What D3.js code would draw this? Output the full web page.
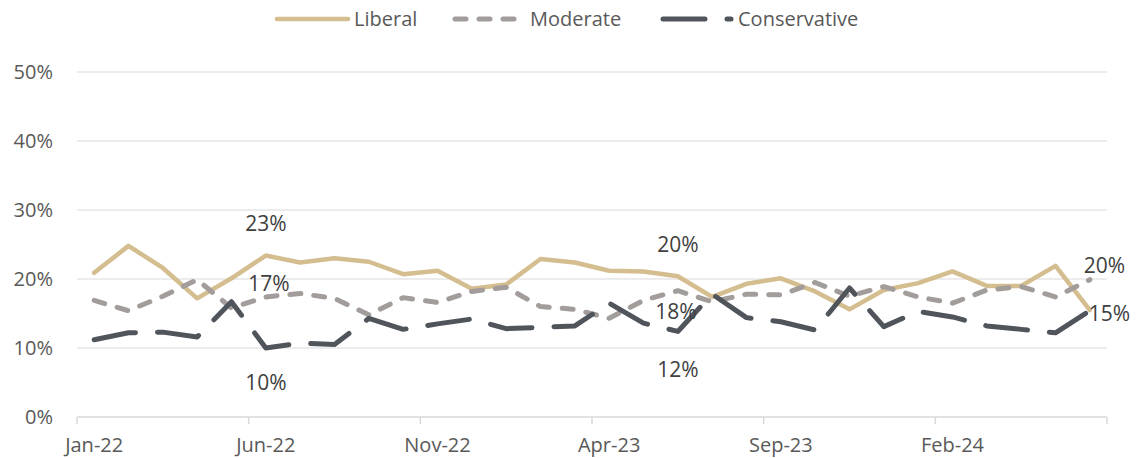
<!DOCTYPE html>
<html>
<head>
<meta charset="utf-8">
<script src="https://cdn.jsdelivr.net/npm/d3@7"></script>
<style>
  body { margin: 0; background: #fff; }
  text { font-family: "Open Sans", sans-serif; fill: #595959; }
</style>
</head>
<body>
<script>
// monthly readings, Jan-22 .. Jun-24
var months = d3.timeMonth.range(new Date(2022, 0, 1), new Date(2024, 6, 1));

var liberal = [20.9, 24.8, 21.6, 17.2, 20.1, 23.4, 22.4, 23.0, 22.5, 20.7,
               21.2, 18.6, 19.2, 22.9, 22.4, 21.2, 21.1, 20.4, 17.4, 19.3,
               20.1, 18.2, 15.6, 18.4, 19.4, 21.1, 19.0, 19.0, 21.9, 15.5];
var moderate = [16.9, 15.4, 17.5, 19.9, 15.8, 17.4, 17.9, 17.2, 14.8, 17.3,
                16.6, 18.2, 18.8, 16.0, 15.6, 14.3, 16.9, 18.3, 16.7, 17.8,
                17.7, 19.5, 17.5, 18.9, 17.4, 16.5, 18.4, 18.9, 17.4, 19.9];
var conservative = [11.2, 12.2, 12.3, 11.6, 16.7, 10.0, 10.7, 10.5, 14.3, 12.7,
                    13.5, 14.2, 12.8, 13.0, 13.2, 16.5, 13.6, 12.4, 17.8, 14.4,
                    13.8, 12.6, 18.7, 13.1, 15.3, 14.5, 13.2, 12.7, 12.2, 15.4];

var yTicks = [0, 10, 20, 30, 40, 50];
var xLabelEvery = 5;

var series = [
  {name: "Liberal", values: liberal, color: "#D4BD8F", width: 4.5, dash: null},
  {name: "Moderate", values: moderate, color: "#A29C9B", width: 5, dash: "11,13"},
  {name: "Conservative", values: conservative, color: "#50555C", width: 5, dash: "42,22"}
];

// which points carry a data label, and where it sits relative to the point
var labels = [
  {s: 0, i: 5, dx: 0, dy: -25, anchor: "middle"},
  {s: 1, i: 5, dx: 3, dy: -6, anchor: "middle"},
  {s: 2, i: 5, dx: 0, dy: 42, anchor: "middle"},
  {s: 0, i: 17, dx: 0, dy: -24, anchor: "middle"},
  {s: 1, i: 17, dx: -2, dy: 28, anchor: "middle"},
  {s: 2, i: 17, dx: 0, dy: 46, anchor: "middle"},
  {s: 1, i: 29, dx: -6, dy: -7, anchor: "start"},
  {s: 2, i: 29, dx: -1, dy: 10, anchor: "start"}
];

var W = 1145, H = 458;
var margin = {top: 72, right: 38, bottom: 41, left: 77};

var svg = d3.select("body").append("svg")
  .attr("width", W)
  .attr("height", H);

var x = d3.scaleBand()
  .domain(months)
  .range([margin.left, W - margin.right])
  .paddingInner(0).paddingOuter(0);

var y = d3.scaleLinear()
  .domain([0, 50])
  .range([H - margin.bottom, margin.top]);

var cx = function(i) { return x(months[i]) + x.bandwidth() / 2; };

// gridlines
svg.append("g")
  .selectAll("line")
  .data(yTicks.filter(function(d) { return d > 0; }))
  .join("line")
  .attr("x1", margin.left)
  .attr("x2", W - margin.right)
  .attr("y1", function(d) { return y(d); })
  .attr("y2", function(d) { return y(d); })
  .attr("stroke", "#D9D9D9")
  .attr("stroke-width", 1);

// Y axis labels
svg.append("g")
  .selectAll("text")
  .data(yTicks)
  .join("text")
  .attr("x", 53)
  .attr("y", function(d) { return y(d) + 7; })
  .attr("text-anchor", "end")
  .style("font-size", "20px")
  .text(function(d) { return d + "%"; });

// X axis line and ticks at month boundaries
var xa = svg.append("g");
xa.append("line")
  .attr("x1", margin.left).attr("x2", W - margin.right)
  .attr("y1", y(0)).attr("y2", y(0))
  .attr("stroke", "#D9D9D9").attr("stroke-width", 1.5);

var tickIdx = d3.range(0, months.length + 1, xLabelEvery);
xa.selectAll(".tk")
  .data(tickIdx)
  .join("line")
  .attr("class", "tk")
  .attr("x1", function(i) { return i < months.length ? x(months[i]) : x.range()[1]; })
  .attr("x2", function(i) { return i < months.length ? x(months[i]) : x.range()[1]; })
  .attr("y1", y(0)).attr("y2", y(0) + 7)
  .attr("stroke", "#D9D9D9").attr("stroke-width", 1.5);

var fmt = d3.timeFormat("%b-%y");
xa.selectAll(".lb")
  .data(tickIdx.filter(function(i) { return i < months.length; }))
  .join("text")
  .attr("class", "lb")
  .attr("x", function(i) { return cx(i); })
  .attr("y", H - 6)
  .attr("text-anchor", "middle")
  .style("font-size", "20px")
  .text(function(i) { return fmt(months[i]); });

// lines
var line = d3.line()
  .x(function(d, i) { return cx(i); })
  .y(function(d) { return y(d); });

series.forEach(function(s) {
  svg.append("path")
    .datum(s.values)
    .attr("d", line)
    .attr("fill", "none")
    .attr("stroke", s.color)
    .attr("stroke-width", s.width)
    .attr("stroke-linecap", "round")
    .attr("stroke-linejoin", "round")
    .attr("stroke-dasharray", s.dash);
});

// data labels
svg.append("g")
  .selectAll("text")
  .data(labels)
  .join("text")
  .attr("x", function(d) { return cx(d.i) + d.dx; })
  .attr("y", function(d) { return y(series[d.s].values[d.i]) + d.dy; })
  .attr("text-anchor", function(d) { return d.anchor; })
  .style("font-size", "21px")
  .style("fill", "#404040")
  .text(function(d) { return Math.round(series[d.s].values[d.i]) + "%"; });

// legend
var legendPos = [
  {x1: 277, x2: 348, tx: 354},
  {x1: 455, x2: 518, tx: 530},
  {x1: 663, x2: 731, tx: 738}
];
var lg = svg.append("g");
series.forEach(function(s, k) {
  var p = legendPos[k];
  lg.append("line")
    .attr("x1", p.x1).attr("x2", p.x2)
    .attr("y1", 19).attr("y2", 19)
    .attr("stroke", s.color)
    .attr("stroke-width", s.width)
    .attr("stroke-linecap", "round")
    .attr("stroke-dasharray", s.dash);
  lg.append("text")
    .attr("x", p.tx)
    .attr("y", 26)
    .style("font-size", "20px")
    .text(s.name);
});
</script>
</body>
</html>
